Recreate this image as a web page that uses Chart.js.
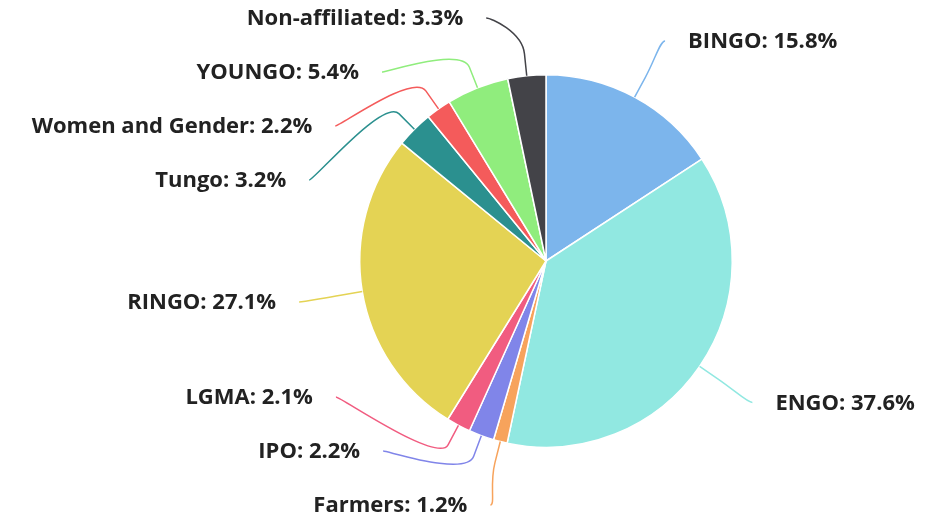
<!DOCTYPE html>
<html>
<head>
<meta charset="utf-8">
<script src="https://cdn.jsdelivr.net/npm/chart.js@4/dist/chart.umd.min.js"></script>
<style>
  html, body { margin: 0; padding: 0; background: #ffffff; }
  #wrap { position: relative; width: 944px; height: 518px; }
</style>
</head>
<body>
<div id="wrap"><canvas id="c" width="944" height="518"></canvas></div>
<script>
const categories = ['BINGO', 'ENGO', 'Farmers', 'IPO', 'LGMA', 'RINGO', 'Tungo', 'Women and Gender', 'YOUNGO', 'Non-affiliated'];
const shares = [15.8, 37.6, 1.2, 2.2, 2.1, 27.1, 3.2, 2.2, 5.4, 3.3];
const sliceColors = ['#7cb5ec', '#91e8e1', '#f7a35c', '#8085e9', '#f15c80', '#e4d354', '#2b908f', '#f45b5b', '#90ed7d', '#434348'];

const labelStyle = {
  font: 'bold 22px "Open Sans", "DejaVu Sans", sans-serif',
  color: '#222222',
  distance: 64,      // label radius beyond the pie edge
  breakOffset: 22,   // connector bend beyond the pie edge
  textGap: 23,       // gap between connector start and text
  spacing: 54,       // min vertical distance between labels
  top: 18,
  bottomMargin: 13
};

const pieLabels = {
  id: 'pieLabels',
  afterDraw(chart) {
    const ctx = chart.ctx;
    const meta = chart.getDatasetMeta(0);
    const arcs = meta.data;
    if (!arcs.length) return;
    const cx = arcs[0].x, cy = arcs[0].y, r = arcs[0].outerRadius;
    const D = r + labelStyle.distance;
    const items = arcs.map((a, i) => {
      const mid = (a.startAngle + a.endAngle) / 2;
      return {
        i, mid,
        left: Math.cos(mid) < 0,
        y: cy + D * Math.sin(mid),
        text: categories[i] + ': ' + shares[i].toFixed(1) + '%'
      };
    });
    const top = labelStyle.top, bottom = chart.height - labelStyle.bottomMargin, gap = labelStyle.spacing;
    [true, false].forEach(side => {
      const s = items.filter(it => it.left === side).sort((a, b) => a.y - b.y);
      for (let k = 0; k < s.length; k++) {
        s[k].y = Math.max(s[k].y, top, k ? s[k - 1].y + gap : -Infinity);
      }
      for (let k = s.length - 1; k >= 0; k--) {
        s[k].y = Math.min(s[k].y, bottom, k < s.length - 1 ? s[k + 1].y - gap : Infinity);
      }
      for (let k = 0; k < s.length; k++) {
        s[k].y = Math.max(s[k].y, top, k ? s[k - 1].y + gap : -Infinity);
      }
    });
    ctx.save();
    ctx.font = labelStyle.font;
    ctx.textBaseline = 'middle';
    items.forEach(it => {
      const dy = it.y - cy;
      const dx = Math.sqrt(Math.max(0, D * D - dy * dy));
      const lx = it.left ? cx - dx : cx + dx;
      const tx = cx + r * Math.cos(it.mid), ty = cy + r * Math.sin(it.mid);
      const rb = r + labelStyle.breakOffset;
      const bx = cx + rb * Math.cos(it.mid), by = cy + rb * Math.sin(it.mid);
      ctx.beginPath();
      ctx.moveTo(lx, it.y);
      ctx.bezierCurveTo(lx + (it.left ? 5 : -5), it.y, 2 * bx - tx, 2 * by - ty, bx, by);
      ctx.lineTo(tx, ty);
      ctx.strokeStyle = sliceColors[it.i];
      ctx.lineWidth = 1.5;
      ctx.stroke();
      ctx.fillStyle = labelStyle.color;
      ctx.textAlign = it.left ? 'right' : 'left';
      ctx.fillText(it.text, it.left ? lx - labelStyle.textGap : lx + labelStyle.textGap, it.y + 1);
    });
    ctx.restore();
  }
};

new Chart(document.getElementById('c'), {
  type: 'pie',
  data: {
    labels: categories,
    datasets: [{
      data: shares,
      backgroundColor: sliceColors,
      borderColor: '#ffffff',
      borderWidth: 1.5,
      hoverOffset: 0
    }]
  },
  options: {
    responsive: false,
    animation: false,
    events: [],
    layout: { padding: { top: 74, bottom: 70, left: 359, right: 211 } },
    plugins: {
      legend: { display: false },
      tooltip: { enabled: false },
      title: { display: false }
    }
  },
  plugins: [pieLabels]
});
</script>
</body>
</html>
